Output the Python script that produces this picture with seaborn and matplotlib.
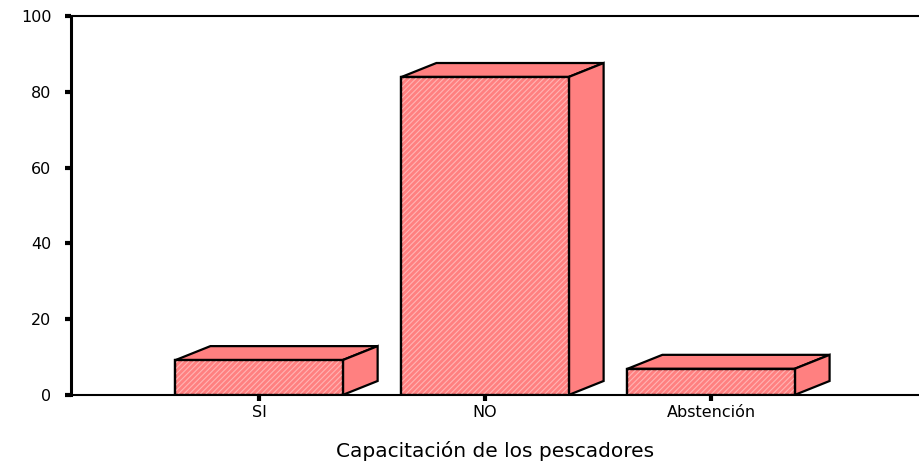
import matplotlib
matplotlib.use("Agg")
import matplotlib.pyplot as plt
import seaborn as sns
import pandas as pd
from matplotlib.patches import Polygon, Rectangle

categories = ["SI", "NO", "Abstención"]
values = [9.2, 83.9, 6.9]
y_ticks = [0, 20, 40, 60, 80, 100]
x_label = "Capacitación de los pescadores"

sns.set_theme(style="white")
plt.rcParams['font.family'] = ['DejaVu Sans']
plt.rcParams['text.color'] = 'black'
plt.rcParams['xtick.color'] = 'black'
plt.rcParams['ytick.color'] = 'black'
plt.rcParams['axes.labelcolor'] = 'black'
plt.rcParams['hatch.linewidth'] = 0.8

df = pd.DataFrame({"cat": categories, "val": values})

fig = plt.figure(figsize=(9.2, 4.61), dpi=100)
ax = fig.add_axes([0.0772, 0.1432, 0.9228, 0.8221])

face = "#ff8080"
sns.barplot(data=df, x="cat", y="val", ax=ax, color=face, saturation=1,
            width=0.74, edgecolor="black", linewidth=1.6, zorder=3)

ax.set_xlim(-0.832, 2.925)
ax.set_ylim(0, 100)

dx_px, dy_px = 35, 14
fig.canvas.draw()
inv = ax.transData.inverted()
bars = list(ax.patches)
for p in bars:
    x0, y0 = p.get_x(), p.get_y()
    w, h = p.get_width(), p.get_height()
    d0 = ax.transData.transform((x0, y0))
    d1 = inv.transform((d0[0] + dx_px, d0[1] + dy_px))
    ddx, ddy = d1[0] - x0, d1[1] - y0
    top = Polygon([(x0, y0 + h), (x0 + ddx, y0 + h + ddy), (x0 + w + ddx, y0 + h + ddy), (x0 + w, y0 + h)],
                  closed=True, facecolor=face, edgecolor="black", linewidth=1.6, zorder=2.9)
    side = Polygon([(x0 + w, y0), (x0 + w, y0 + h), (x0 + w + ddx, y0 + h + ddy), (x0 + w + ddx, y0 + ddy)],
                   closed=True, facecolor=face, edgecolor="black", linewidth=1.6, zorder=2.9)
    ax.add_patch(top)
    ax.add_patch(side)
    tex = Rectangle((x0, y0), w, h, facecolor="none", edgecolor="#ffb4b4",
                    linewidth=0, hatch="//////", zorder=3.05)
    ax.add_patch(tex)
    outline = Rectangle((x0, y0), w, h, facecolor="none", edgecolor="black",
                        linewidth=1.6, zorder=3.1)
    ax.add_patch(outline)

ax.set_yticks(y_ticks)
ax.set_yticklabels([str(t) for t in y_ticks], fontsize=11.5)
ax.set_xticks(range(len(categories)))
ax.set_xticklabels(categories, fontsize=11.5)
ax.set_xlabel(x_label, fontsize=14.5, labelpad=15)
ax.set_ylabel("")

ax.spines["left"].set_linewidth(2.2)
for s in ["top", "bottom"]:
    ax.spines[s].set_linewidth(1.5)
ax.spines["right"].set_visible(False)
for s in ax.spines.values():
    s.set_color("black")

ax.tick_params(axis="y", which="both", left=True, length=4, width=3, pad=10, colors="black")
ax.tick_params(axis="x", which="both", bottom=True, length=4, width=3, pad=3, colors="black")

fig.savefig("out.png", dpi=100)
